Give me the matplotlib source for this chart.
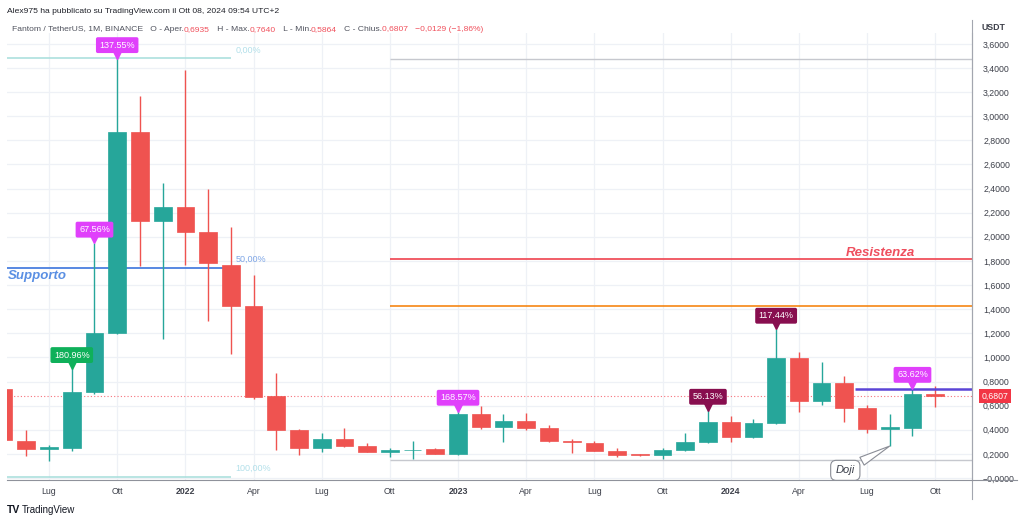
import matplotlib
matplotlib.use('Agg')
import matplotlib.pyplot as plt
from matplotlib.lines import Line2D
from matplotlib.transforms import offset_copy, blended_transform_factory
from matplotlib.ticker import FixedLocator, FuncFormatter

plt.rcParams['font.family'] = ['Liberation Sans', 'DejaVu Sans']

# ---------------- data ----------------
months = ['2021-05', '2021-06', '2021-07', '2021-08', '2021-09', '2021-10', '2021-11', '2021-12',
          '2022-01', '2022-02', '2022-03', '2022-04', '2022-05', '2022-06', '2022-07', '2022-08',
          '2022-09', '2022-10', '2022-11', '2022-12', '2023-01', '2023-02', '2023-03', '2023-04',
          '2023-05', '2023-06', '2023-07', '2023-08', '2023-09', '2023-10', '2023-11', '2023-12',
          '2024-01', '2024-02', '2024-03', '2024-04', '2024-05', '2024-06', '2024-07', '2024-08',
          '2024-09', '2024-10']
opens = [0.738, 0.309, 0.238, 0.251, 0.711, 1.200, 2.870, 2.130, 2.250, 2.040, 1.770, 1.430,
         0.680, 0.398, 0.249, 0.320, 0.264, 0.218, 0.230, 0.240, 0.195, 0.530, 0.420, 0.470,
         0.415, 0.307, 0.293, 0.226, 0.196, 0.190, 0.232, 0.300, 0.467, 0.342, 0.455, 0.998,
         0.638, 0.788, 0.583, 0.406, 0.418, 0.6935]
highs = [0.780, 0.398, 0.270, 0.910, 1.950, 3.480, 3.170, 2.450, 3.380, 2.400, 2.080, 1.680,
         0.870, 0.406, 0.373, 0.414, 0.290, 0.250, 0.310, 0.250, 0.556, 0.600, 0.530, 0.540,
         0.440, 0.325, 0.310, 0.245, 0.200, 0.245, 0.370, 0.564, 0.514, 0.490, 1.236, 1.047,
         0.964, 0.846, 0.605, 0.530, 0.746, 0.7640]
lows = [0.270, 0.182, 0.140, 0.226, 0.700, 1.190, 1.760, 1.150, 1.770, 1.300, 1.030, 0.655,
        0.232, 0.190, 0.218, 0.257, 0.212, 0.177, 0.158, 0.196, 0.190, 0.410, 0.300, 0.400,
        0.300, 0.207, 0.220, 0.174, 0.180, 0.157, 0.225, 0.290, 0.296, 0.335, 0.450, 0.550,
        0.605, 0.467, 0.376, 0.265, 0.350, 0.5864]
closes = [0.315, 0.238, 0.255, 0.716, 1.205, 2.870, 2.130, 2.250, 2.040, 1.780, 1.430, 0.675,
          0.398, 0.249, 0.320, 0.264, 0.218, 0.231, 0.236, 0.200, 0.530, 0.420, 0.470, 0.415,
          0.307, 0.297, 0.226, 0.190, 0.188, 0.232, 0.300, 0.467, 0.342, 0.455, 0.998, 0.638,
          0.788, 0.583, 0.406, 0.420, 0.6936, 0.6807]

tick_months = ['2021-07', '2021-10', '2022-01', '2022-04', '2022-07', '2022-10', '2023-01',
               '2023-04', '2023-07', '2023-10', '2024-01', '2024-04', '2024-07', '2024-10']
tick_labels = ['Lug', 'Ott', '2022', 'Apr', 'Lug', 'Ott', '2023', 'Apr', 'Lug', 'Ott', '2024',
               'Apr', 'Lug', 'Ott']
price_ticks = [0.0, 0.2, 0.4, 0.6, 0.8, 1.0, 1.2, 1.4, 1.6, 1.8, 2.0, 2.2, 2.4, 2.6, 2.8, 3.0,
               3.2, 3.4, 3.6]

callout_months = ['2021-08', '2021-09', '2021-10', '2023-01', '2023-12', '2024-03', '2024-09']
callout_texts = ['180.96%', '67.56%', '137.55%', '168.57%', '56.13%', '117.44%', '63.62%']
callout_kinds = ['green', 'magenta', 'magenta', 'magenta', 'maroon', 'maroon', 'magenta']

fib_levels = [3.48, 1.745, 0.011]
fib_labels = ['0,00%', '50,00%', '100,00%']
fib_end_month = '2022-03'
lines_start_month = '2022-10'
resistance_level = 1.815
orange_level = 1.425
gray_levels = [3.474, 0.150]
purple_level = 0.738
purple_start_month = '2024-06'
doji_month = '2024-08'

# ---------------- colors ----------------
UP = '#26a69a'
DOWN = '#ef5350'
GRID = '#eef1f6'
KIND_COLORS = {'green': '#0fb05a', 'magenta': '#e040fb', 'maroon': '#880e4f'}

fig = plt.figure(figsize=(10.24, 5.22), dpi=100)
W, H = 1024, 522
ax = fig.add_axes([7 / W, 1 - 480 / H, (972 - 7) / W, (480 - 33) / H])

x = list(range(len(months)))
ax.set_xlim(0.15, 42.62)
ax.set_ylim(-0.0166, 3.69)

# grid
for t in tick_months:
    ax.axvline(months.index(t), color=GRID, lw=0.9, zorder=0)
for p in price_ticks:
    ax.axhline(p, color=GRID, lw=0.9, zorder=0)

# candles
for i in x:
    o, h, l, c = opens[i], highs[i], lows[i], closes[i]
    col = UP if c >= o else DOWN
    ax.vlines(i, l, h, color=col, lw=1.0, zorder=3)
    ax.bar(i, max(abs(c - o), 0.003), bottom=min(o, c), width=0.78, color=col,
           edgecolor=col, linewidth=0.5, zorder=4)

# fib retracement
fe = months.index(fib_end_month)
fib_line_colors = ['#a6dedb', '#4a7fdf', '#a6dedb']
fib_text_colors = ['#b3e0ea', '#7fa6e6', '#b3e0ea']
for lv, lab, lc, tc in zip(fib_levels, fib_labels, fib_line_colors, fib_text_colors):
    ax.hlines(lv, ax.get_xlim()[0], fe, color=lc, lw=1.1 if lc != '#4a7fdf' else 1.3, zorder=2)
    ax.annotate(lab, xy=(fe, lv), xytext=(3.5, 2.5), textcoords='offset points',
                ha='left', va='bottom', fontsize=6.5, color=tc, zorder=5)

ax.annotate('Supporto', xy=(ax.get_xlim()[0], fib_levels[1]), xytext=(0.5, -2),
            textcoords='offset points', ha='left', va='top', fontsize=9.5,
            fontweight='bold', fontstyle='italic', color='#5a8fe3', zorder=6)

# horizontal lines on the right
ls = months.index(lines_start_month)
xr = ax.get_xlim()[1]
ax.hlines(resistance_level, ls, xr, color='#f0505c', lw=1.3, zorder=2)
ax.hlines(orange_level, ls, xr, color='#f57c00', lw=1.1, zorder=2)
for g in gray_levels:
    ax.hlines(g, ls, xr, color='#c6c8ce', lw=1.0, zorder=2)
ax.hlines(purple_level, months.index(purple_start_month) + 0.45, xr, color='#5b45d6', lw=1.8, zorder=5)
ax.text(0.941, resistance_level, 'Resistenza',
        transform=blended_transform_factory(ax.transAxes, ax.transData),
        ha='right', va='bottom', fontsize=9.5, fontweight='bold', fontstyle='italic',
        color='#ef4f5e', zorder=6)

# last price dotted line
last = closes[-1]
ax.axhline(last, color='#f7707a', lw=0.8, ls=(0, (1, 2)), zorder=2)

# callouts
for m, txt, kind in zip(callout_months, callout_texts, callout_kinds):
    i = months.index(m)
    col = KIND_COLORS[kind]
    hi = highs[i]
    tr = offset_copy(ax.transData, fig=fig, y=3.2, units='points')
    ax.plot([i], [hi], marker='v', ms=6.5, color=col, transform=tr, zorder=7, clip_on=False)
    ax.annotate(txt, xy=(i, hi), xytext=(0, 9.5), textcoords='offset points', ha='center',
                va='center', fontsize=6.5, color='white', zorder=8, annotation_clip=False,
                bbox=dict(boxstyle='round,pad=0.38,rounding_size=0.2', fc=col, ec='none'))

# doji callout
di = months.index(doji_month)
ax.annotate('Doji', xy=(di, lows[di]), xytext=(-32, -17.5), textcoords='offset points',
            ha='center', va='center', fontsize=8, fontstyle='italic', color='#3b3f4a', zorder=9,
            annotation_clip=False,
            bbox=dict(boxstyle='round,pad=0.45,rounding_size=0.5', fc='white', ec='#8a8d96', lw=0.8),
            arrowprops=dict(arrowstyle='wedge,tail_width=0.8,shrink_factor=0.5', fc='white',
                            ec='#8a8d96', lw=0.8, shrinkA=2, shrinkB=0))

# axes styling
for s in ['top', 'left']:
    ax.spines[s].set_visible(False)
ax.spines['right'].set_color('#a3a6af')
ax.spines['right'].set_linewidth(0.8)
ax.spines['bottom'].set_color('#8f929b')
ax.spines['bottom'].set_linewidth(0.8)

ax.yaxis.tick_right()
ax.yaxis.set_major_locator(FixedLocator(price_ticks))


def fmt_price(v, pos=None):
    s = f"{abs(v):.4f}".replace('.', ',')
    return ('\u2212' if v <= 0 else '') + s


ax.yaxis.set_major_formatter(FuncFormatter(fmt_price))
ax.tick_params(axis='y', length=0, pad=8, labelsize=6.3, labelcolor='#3d404a')
ax.set_xticks([months.index(t) for t in tick_months])
ax.set_xticklabels(tick_labels)
ax.tick_params(axis='x', length=0, pad=5, labelsize=6.3, labelcolor='#3d404a')
for lab in ax.get_xticklabels():
    if lab.get_text().isdigit():
        lab.set_fontweight('bold')

# last price label on axis
ax.text(995 / W, last, fmt_price(last),
        transform=blended_transform_factory(fig.transFigure, ax.transData),
        ha='center', va='center', fontsize=6.3, color='white', zorder=10,
        bbox=dict(boxstyle='square,pad=0.3', fc='#f23645', ec='none'))

# frame extensions
fig.add_artist(Line2D([972 / W, 972 / W], [1 - 499 / H, 1 - 20 / H], transform=fig.transFigure,
                      color='#a3a6af', lw=0.8))
fig.add_artist(Line2D([972 / W, 1017 / W], [1 - 480 / H, 1 - 480 / H], transform=fig.transFigure,
                      color='#8f929b', lw=0.8))

fig.text(982 / W, 1 - 28 / H, 'USDT', fontsize=6.3, fontweight='bold', color='#3d404a', va='center')

# header
HEADER_FS = 6.1
fig.text(7 / W, 1 - 13 / H, 'Alex975 ha pubblicato su TradingView.com il Ott 08, 2024 09:54 UTC+2',
         fontsize=HEADER_FS, color='#1e2028', va='baseline', ha='left')

o, h, l, c = opens[-1], highs[-1], lows[-1], closes[-1]
chg = c - closes[-2]
pct = chg / closes[-2] * 100


def comma(v, d=4):
    return (f"{v:.{d}f}").replace('.', ',').replace('-', '\u2212')


pieces = [('Fantom / TetherUS, 1M, BINANCE   O - Aper.', '#50535e'), (comma(o), '#f0505c'),
          ('   H - Max.', '#50535e'), (comma(h), '#f0505c'),
          ('   L - Min.', '#50535e'), (comma(l), '#f0505c'),
          ('   C - Chius.', '#50535e'),
          (comma(c) + '   ' + comma(chg) + ' (' + comma(pct, 2) + '%)', '#f0505c')]
renderer = fig.canvas.get_renderer()
xpos = 12 / W
for txt, col in pieces:
    t = fig.text(xpos, 1 - 31 / H, txt, fontsize=HEADER_FS, color=col, va='baseline', ha='left')
    ext = t.get_window_extent(renderer=renderer)
    xpos = ext.x1 / fig.bbox.width

# TradingView logo
fig.text(7 / W, 1 - 510 / H, 'TV', fontsize=7.5, fontweight='bold', color='#131722', va='center')
fig.text(22 / W, 1 - 510 / H, 'TradingView', fontsize=7, color='#131722', va='center')

fig.savefig('out.png', dpi=100, facecolor='white')
